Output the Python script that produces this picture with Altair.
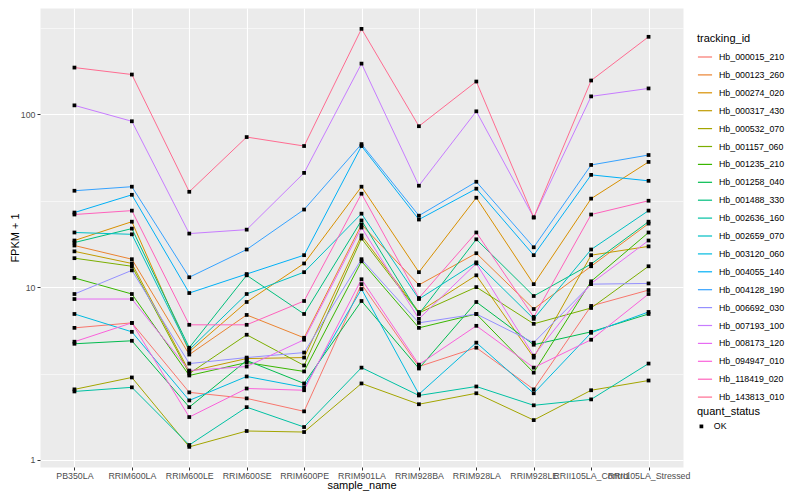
import altair as alt
import pandas as pd

samples = ["PB350LA", "RRIM600LA", "RRIM600LE", "RRIM600SE", "RRIM600PE",
           "RRIM901LA", "RRIM928BA", "RRIM928LA", "RRIM928LE",
           "RRII105LA_Control", "RRII105LA_Stressed"]

ids = ["Hb_000015_210", "Hb_000123_260", "Hb_000274_020", "Hb_000317_430",
       "Hb_000532_070", "Hb_001157_060", "Hb_001235_210", "Hb_001258_040",
       "Hb_001488_330", "Hb_002636_160", "Hb_002659_070", "Hb_003120_060",
       "Hb_004055_140", "Hb_004128_190", "Hb_006692_030", "Hb_007193_100",
       "Hb_008173_120", "Hb_094947_010", "Hb_118419_020", "Hb_143813_010"]

colors = ["#F8766D", "#EA8331", "#D89000", "#C09B00", "#A3A500", "#7CAE00",
          "#39B600", "#00BB4E", "#00BF7D", "#00C1A3", "#00BFC4", "#00BAE0",
          "#00B0F6", "#35A2FF", "#9590FF", "#C77CFF", "#E76BF3", "#FA62DB",
          "#FF62BC", "#FF6C91"]

# FPKM + 1 per sample (same order as samples)
v_000015_210 = [5.81, 6.21, 2.46, 2.27, 1.91, 10.4, 3.47, 4.46, 2.56, 7.78, 9.61]
v_000123_260 = [17.4, 14.5, 4.07, 6.90, 5.09, 23.0, 10.3, 15.7, 7.47, 13.2, 23.3]
v_000274_020 = [18.6, 23.9, 4.23, 8.20, 13.7, 38.1, 12.2, 32.9, 10.4, 32.5, 53.0]
v_000317_430 = [16.1, 13.7, 3.25, 3.86, 3.91, 19.9, 7.18, 11.7, 3.91, 15.3, 17.2]
v_000532_070 = [2.56, 3.00, 1.19, 1.47, 1.45, 2.77, 2.10, 2.43, 1.70, 2.53, 2.88]
v_001157_060 = [14.7, 13.2, 3.16, 5.30, 3.52, 19.1, 7.09, 10.0, 6.13, 7.57, 13.2]
v_001235_210 = [11.3, 9.12, 3.08, 3.66, 3.25, 14.1, 5.81, 6.99, 3.20, 10.8, 20.7]
v_001258_040 = [4.70, 4.89, 2.02, 3.76, 2.77, 8.31, 3.38, 8.20, 4.64, 5.51, 6.99]
v_001488_330 = [18.1, 21.8, 4.46, 11.7, 6.99, 24.3, 6.99, 18.9, 8.88, 13.6, 23.9]
v_002636_160 = [2.49, 2.63, 1.22, 2.02, 1.55, 3.42, 2.36, 2.66, 2.07, 2.24, 3.61]
v_002659_070 = [20.7, 20.2, 4.34, 9.12, 12.2, 26.6, 8.53, 13.9, 6.55, 16.5, 27.7]
v_003120_060 = [6.99, 5.51, 2.21, 3.04, 2.63, 9.74, 2.40, 4.77, 2.43, 5.44, 7.18]
v_004055_140 = [27.0, 34.2, 9.24, 11.9, 15.3, 65.5, 24.6, 37.1, 15.3, 44.6, 41.2]
v_004128_190 = [36.1, 38.1, 11.4, 16.5, 28.1, 67.2, 25.9, 40.7, 17.0, 50.9, 58.1]
v_006692_030 = [9.12, 12.5, 3.61, 3.91, 4.18, 14.5, 6.21, 6.99, 4.77, 10.4, 10.5]
v_007193_100 = [112.6, 91.1, 20.4, 21.5, 45.8, 196.4, 38.6, 104.0, 25.3, 126.9, 141.1]
v_008173_120 = [8.53, 8.53, 3.29, 3.47, 4.96, 22.1, 6.55, 13.7, 4.01, 10.5, 18.6]
v_094947_010 = [4.83, 6.21, 1.77, 2.59, 2.53, 11.1, 3.56, 5.97, 3.42, 4.96, 9.12]
v_118419_020 = [26.3, 27.7, 6.05, 6.05, 8.31, 34.7, 8.65, 20.7, 6.72, 26.3, 31.6]
v_143813_010 = [186.3, 169.8, 35.6, 73.8, 65.5, 312.0, 85.3, 154.7, 25.3, 156.8, 280.7]

series = [v_000015_210, v_000123_260, v_000274_020, v_000317_430, v_000532_070,
          v_001157_060, v_001235_210, v_001258_040, v_001488_330, v_002636_160,
          v_002659_070, v_003120_060, v_004055_140, v_004128_190, v_006692_030,
          v_007193_100, v_008173_120, v_094947_010, v_118419_020, v_143813_010]

rows = []
for tid, vals in zip(ids, series):
    for s, v in zip(samples, vals):
        rows.append({"tracking_id": tid, "sample_name": s, "fpkm1": v, "quant_status": "OK"})
df = pd.DataFrame(rows)

FONT = "Liberation Sans"
major = "datum.value == 1 || datum.value == 10 || datum.value == 100"

x_enc = alt.X("sample_name:N", sort=samples, title="sample_name",
              scale=alt.Scale(padding=0.6),
              axis=alt.Axis(labelAngle=0, labelOverlap=False, labelBound=False,
                            labelFontSize=8.8, labelColor="#4D4D4D", labelPadding=1,
                            tickColor="#333333", tickSize=3, domain=False,
                            grid=True, gridColor="white", gridWidth=1.1,
                            titleFontSize=11, titleFontWeight="normal",
                            titleColor="black", titlePadding=0))
y_enc = alt.Y("fpkm1:Q", title="FPKM + 1",
              scale=alt.Scale(type="log", domain=[0.91, 412], nice=False),
              axis=alt.Axis(values=[1, 3.16228, 10, 31.6228, 100, 316.228],
                            labelExpr="(" + major + ") ? datum.label : ''",
                            labelFontSize=8.8, labelColor="#4D4D4D", labelPadding=2,
                            tickSize=3,
                            tickColor={"condition": {"test": major, "value": "#333333"},
                                       "value": "transparent"},
                            domain=False, grid=True, gridColor="white",
                            gridWidth={"condition": {"test": major, "value": 1.1},
                                       "value": 0.55},
                            titleFontSize=11, titleFontWeight="normal",
                            titleColor="black", titleX=-20))

lines = alt.Chart(df).mark_line(strokeWidth=1).encode(
    x=x_enc, y=y_enc,
    color=alt.Color("tracking_id:N",
                    scale=alt.Scale(domain=ids, range=colors),
                    legend=alt.Legend(title="tracking_id", orient="none",
                                      legendX=657, legendY=25,
                                      symbolType="stroke", symbolSize=200,
                                      symbolStrokeWidth=1.2,
                                      labelFontSize=8.8, titleFontSize=11,
                                      titleFontWeight="normal", rowPadding=4.9,
                                      titlePadding=5, labelOffset=6)),
    detail="tracking_id:N",
)

points = alt.Chart(df).mark_point(filled=True, opacity=1, color="black", size=14).encode(
    x=x_enc, y=y_enc,
    shape=alt.Shape("quant_status:N", scale=alt.Scale(domain=["OK"], range=["square"]),
                    legend=alt.Legend(title="quant_status", orient="none",
                                      legendX=657, legendY=398,
                                      symbolSize=14, symbolFillColor="black",
                                      symbolStrokeColor="black",
                                      labelFontSize=8.8, titleFontSize=11,
                                      titleFontWeight="normal", titlePadding=5,
                                      labelOffset=8)),
)

chart = alt.layer(lines, points).properties(
    width=643, height=459,
    autosize="none",
    padding={"left": 32, "top": 0, "right": 109, "bottom": 25},
).configure(font=FONT).configure_view(fill="#EBEBEB", stroke="transparent"
).configure_legend(labelColor="black", titleColor="black")

chart.save("out.html", embed_options={"renderer": "svg", "actions": False})
